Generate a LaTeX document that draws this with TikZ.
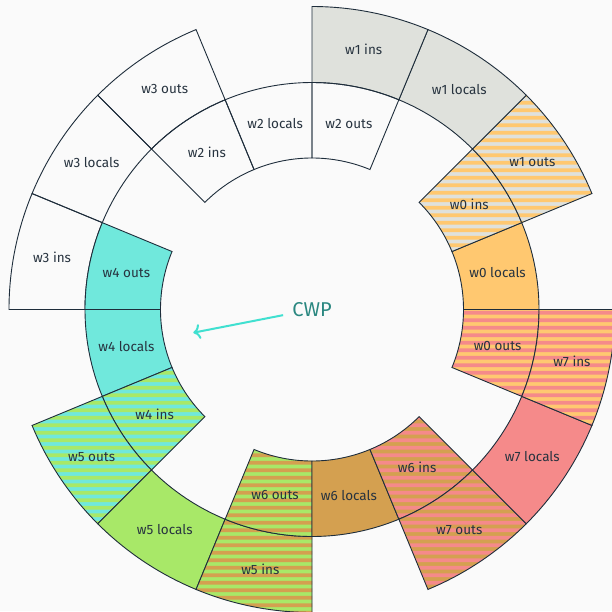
\documentclass[tikz,border=0pt]{standalone}
\usepackage{fontspec}
\setmainfont{Fira Sans}
\usetikzlibrary{arrows.meta}

\definecolor{bg}{HTML}{FAFAFA}
\definecolor{edge}{HTML}{1E2D3B}
\definecolor{ink}{HTML}{27333F}
\definecolor{cOrange}{HTML}{FFC870}
\definecolor{cGray}{HTML}{DFE1DC}
\definecolor{cCyan}{HTML}{70E8DC}
\definecolor{cGreen}{HTML}{A8E868}
\definecolor{cTan}{HTML}{D4A050}
\definecolor{cSalmon}{HTML}{F58A8A}
\definecolor{cwpText}{HTML}{2A8780}
\definecolor{cwpArrow}{HTML}{40E0D0}

% ring radii
\def\rA{151.5}
\def\rB{227}
\def\rC{303}

% annular sector: start angle, end angle, inner radius, outer radius
\tikzset{
  ringpart/.style n args={4}{insert path={
    (#1:#3) arc[start angle=#1,end angle=#2,radius=#3]
    -- (#2:#4) arc[start angle=#2,end angle=#1,radius=#4] -- cycle}},
  regname/.style={text=ink, font=\fontsize{13.5}{15}\selectfont, inner sep=0pt},
  rim/.style={draw=edge, line width=0.9pt},
}

% solid sector with label: a1, a2, r1, r2, colour, node name, text
\newcommand\solidpart[7]{%
  \fill[#5, ringpart={#1}{#2}{#3}{#4}];
  \draw[rim, ringpart={#1}{#2}{#3}{#4}];
  \node[regname] (#6) at ({(#1+#2)/2}:{(#3+#4)/2}) {#7};}

% empty sector with label
\newcommand\openpart[6]{%
  \draw[rim, ringpart={#1}{#2}{#3}{#4}];
  \node[regname] (#5) at ({(#1+#2)/2}:{(#3+#4)/2}) {#6};}

% striped sector with label: a1, a2, r1, r2, colour A, colour B, node name, text
\newcommand\stripepart[8]{%
  \begin{scope}
    \clip[ringpart={#1}{#2}{#3}{#4}];
    \fill[#5] (-320,-320) rectangle (320,320);
    \fill[#6] foreach \k in {0,...,86} {(-320,{-320+7.5*\k}) rectangle ++(640,3.75)};
  \end{scope}
  \draw[rim, ringpart={#1}{#2}{#3}{#4}];
  \node[regname] (#7) at ({(#1+#2)/2}:{(#3+#4)/2}) {#8};}

\begin{document}
\begin{tikzpicture}[x=1pt,y=1pt]
  \fill[bg] (-312,-301.5) rectangle (300,309.5);
  \useasboundingbox (-312,-301.5) rectangle (300,309.5);

  % w0 (inner ring)
  \stripepart{-22.5}{0}{\rA}{\rB}{cOrange}{cSalmon}{w0outs}{w0 outs}
  \solidpart{0}{22.5}{\rA}{\rB}{cOrange}{w0locals}{w0 locals}
  \stripepart{22.5}{45}{\rA}{\rB}{cGray}{cOrange}{w0ins}{w0 ins}

  % w1 (outer ring)
  \stripepart{22.5}{45}{\rB}{\rC}{cGray}{cOrange}{w1outs}{w1 outs}
  \solidpart{45}{67.5}{\rB}{\rC}{cGray}{w1locals}{w1 locals}
  \solidpart{67.5}{90}{\rB}{\rC}{cGray}{w1ins}{w1 ins}

  % w2 (inner ring)
  \openpart{67.5}{90}{\rA}{\rB}{w2outs}{w2 outs}
  \openpart{90}{112.5}{\rA}{\rB}{w2locals}{w2 locals}
  \openpart{112.5}{135}{\rA}{\rB}{w2ins}{w2 ins}

  % w3 (outer ring)
  \openpart{112.5}{135}{\rB}{\rC}{w3outs}{w3 outs}
  \openpart{135}{157.5}{\rB}{\rC}{w3locals}{w3 locals}
  \openpart{157.5}{180}{\rB}{\rC}{w3ins}{w3 ins}

  % w4 (inner ring)
  \solidpart{157.5}{180}{\rA}{\rB}{cCyan}{w4outs}{w4 outs}
  \solidpart{180}{202.5}{\rA}{\rB}{cCyan}{w4locals}{w4 locals}
  \stripepart{202.5}{225}{\rA}{\rB}{cCyan}{cGreen}{w4ins}{w4 ins}

  % w5 (outer ring)
  \stripepart{202.5}{225}{\rB}{\rC}{cCyan}{cGreen}{w5outs}{w5 outs}
  \solidpart{225}{247.5}{\rB}{\rC}{cGreen}{w5locals}{w5 locals}
  \stripepart{247.5}{270}{\rB}{\rC}{cGreen}{cTan}{w5ins}{w5 ins}

  % w6 (inner ring)
  \stripepart{247.5}{270}{\rA}{\rB}{cGreen}{cTan}{w6outs}{w6 outs}
  \solidpart{270}{292.5}{\rA}{\rB}{cTan}{w6locals}{w6 locals}
  \stripepart{292.5}{315}{\rA}{\rB}{cTan}{cSalmon}{w6ins}{w6 ins}

  % w7 (outer ring)
  \stripepart{292.5}{315}{\rB}{\rC}{cTan}{cSalmon}{w7outs}{w7 outs}
  \solidpart{315}{337.5}{\rB}{\rC}{cSalmon}{w7locals}{w7 locals}
  \stripepart{337.5}{360}{\rB}{\rC}{cOrange}{cSalmon}{w7ins}{w7 ins}

  % current window pointer
  \node[text=cwpText, font=\fontsize{20}{23}\selectfont, inner xsep=9pt, inner ysep=2pt] (cwp) at (0,0) {CWP};
  \coordinate (cwptip) at (-118.7,-23.2);
  \draw[cwpArrow, line width=2pt, -{To[length=7pt,width=15pt]}] (cwp) -- (cwptip);
\end{tikzpicture}
\end{document}
